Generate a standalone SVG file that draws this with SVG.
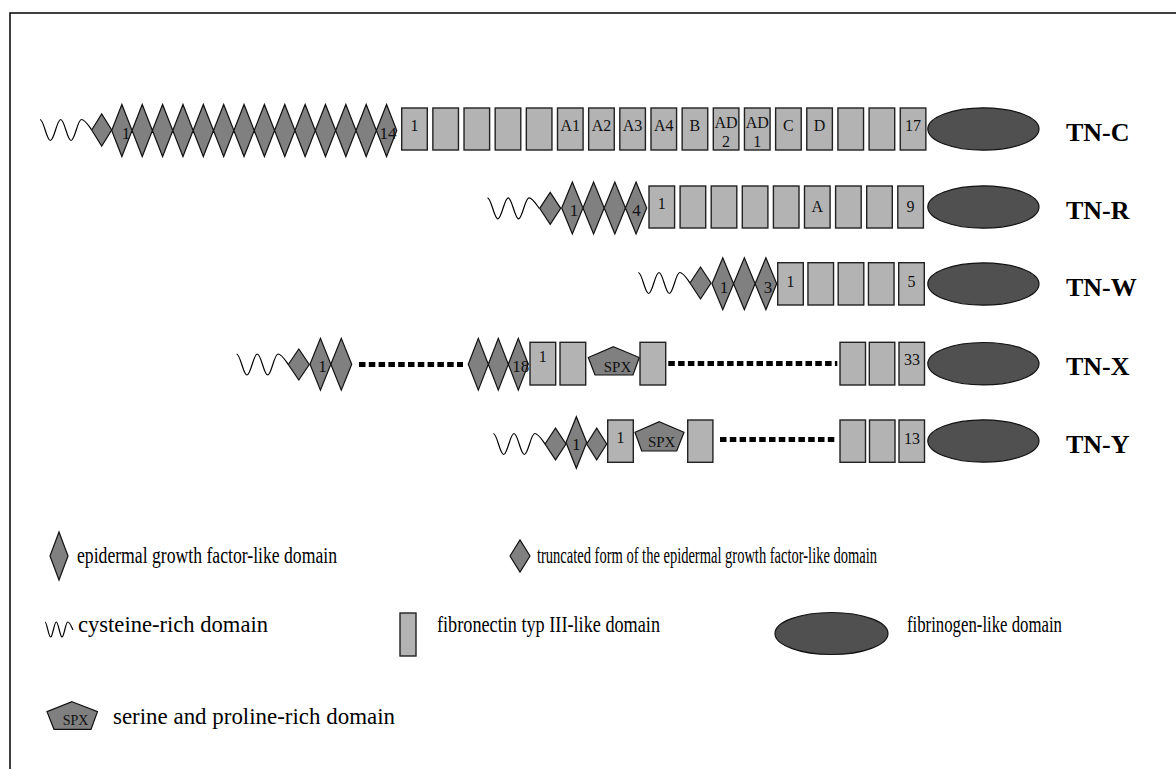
<svg xmlns="http://www.w3.org/2000/svg" xmlns:xlink="http://www.w3.org/1999/xlink" width="1176" height="769" viewBox="0 0 1176 769">
<style>
.egf{fill:#808080;stroke:#111;stroke-width:1.2}
.fn{fill:#b3b3b3;stroke:#222;stroke-width:1.4}
.fg{fill:#505050;stroke:#111;stroke-width:1.2}
.spx{fill:#808080;stroke:#111;stroke-width:1.2}
.cys{fill:none;stroke:#000;stroke-width:1.2}
.dots{fill:none;stroke:#000;stroke-width:5;stroke-dasharray:6.5 3.3}
.n{font-family:"Liberation Serif","Times New Roman",serif;font-size:16px;fill:#111;text-anchor:middle}
.d{font-family:"Liberation Serif","Times New Roman",serif;font-size:17px;fill:#111;text-anchor:middle}
.s{font-family:"Liberation Serif","Times New Roman",serif;font-size:15px;fill:#111;text-anchor:middle}
.tn{font-family:"Liberation Serif","Times New Roman",serif;font-size:26px;font-weight:bold;fill:#000}
.lg{font-family:"Liberation Serif","Times New Roman",serif;font-size:24px;fill:#000}
</style>
<defs>
<path id="wave" d="M0,0 C3.8,0 6.55,21 10.35,21 C14.15,21 16.9,0 20.7,0 C24.5,0 27.25,21 31.05,21 C34.85,21 37.6,0 41.4,0 C45,0 48.5,6 51.7,10.5"/>
</defs>
<rect x="10" y="13" width="1200" height="800" fill="none" stroke="#000" stroke-width="1.5"/>

<g id="connectors">
<path class="dots" d="M359,364.5 H463"/>
<path class="dots" d="M668.3,363.5 H837.3"/>
<path class="dots" d="M720,439.5 H836.7"/>
</g>

<g id="tn-c">
<use xlink:href="#wave" class="cys" x="40" y="119.5"/>
<path class="egf" d="M91.7,130 l10,-16 l10,16 l-10,16 z"/>
<path class="egf" d="M111.7,130.5 l10.18,-26 l10.18,26 l-10.18,26 z m20.36,0 l10.18,-26 l10.18,26 l-10.18,26 z m20.36,0 l10.18,-26 l10.18,26 l-10.18,26 z m20.36,0 l10.18,-26 l10.18,26 l-10.18,26 z m20.36,0 l10.18,-26 l10.18,26 l-10.18,26 z m20.36,0 l10.18,-26 l10.18,26 l-10.18,26 z m20.36,0 l10.18,-26 l10.18,26 l-10.18,26 z m20.36,0 l10.18,-26 l10.18,26 l-10.18,26 z m20.36,0 l10.18,-26 l10.18,26 l-10.18,26 z m20.36,0 l10.18,-26 l10.18,26 l-10.18,26 z m20.36,0 l10.18,-26 l10.18,26 l-10.18,26 z m20.36,0 l10.18,-26 l10.18,26 l-10.18,26 z m20.36,0 l10.18,-26 l10.18,26 l-10.18,26 z m20.36,0 l10.18,-26 l10.18,26 l-10.18,26 z"/>
<text class="d" x="126" y="139">1</text>
<text class="d" x="388" y="139">14</text>
<rect class="fn" x="401.7" y="108" width="25.6" height="42"/>
<rect class="fn" x="432.86" y="108" width="25.6" height="42"/>
<rect class="fn" x="464.02" y="108" width="25.6" height="42"/>
<rect class="fn" x="495.18" y="108" width="25.6" height="42"/>
<rect class="fn" x="526.34" y="108" width="25.6" height="42"/>
<rect class="fn" x="557.5" y="108" width="25.6" height="42"/>
<rect class="fn" x="588.66" y="108" width="25.6" height="42"/>
<rect class="fn" x="619.82" y="108" width="25.6" height="42"/>
<rect class="fn" x="650.98" y="108" width="25.6" height="42"/>
<rect class="fn" x="682.14" y="108" width="25.6" height="42"/>
<rect class="fn" x="713.3" y="108" width="25.6" height="42"/>
<rect class="fn" x="744.46" y="108" width="25.6" height="42"/>
<rect class="fn" x="775.62" y="108" width="25.6" height="42"/>
<rect class="fn" x="806.78" y="108" width="25.6" height="42"/>
<rect class="fn" x="837.94" y="108" width="25.6" height="42"/>
<rect class="fn" x="869.1" y="108" width="25.6" height="42"/>
<rect class="fn" x="900.26" y="108" width="25.6" height="42"/>
<text class="n" x="414.5" y="131">1</text>
<text class="n" x="570.3" y="131">A1</text>
<text class="n" x="601.5" y="131">A2</text>
<text class="n" x="632.6" y="131">A3</text>
<text class="n" x="663.8" y="131">A4</text>
<text class="n" x="694.9" y="131">B</text>
<text class="n" x="726.1" y="127.5">AD</text>
<text class="n" x="726.1" y="146.5">2</text>
<text class="n" x="757.3" y="127.5">AD</text>
<text class="n" x="757.3" y="146.5">1</text>
<text class="n" x="788.4" y="131">C</text>
<text class="n" x="819.6" y="131">D</text>
<text class="n" x="913.1" y="131">17</text>
<ellipse class="fg" cx="983.4" cy="129" rx="55.6" ry="21.2"/>
<text class="tn" x="1066" y="140.5">TN-C</text>
</g>

<g id="tn-r">
<use xlink:href="#wave" class="cys" x="487.5" y="197.8"/>
<path class="egf" d="M539.7,208.3 l10.5,-16 l10.5,16 l-10.5,16 z"/>
<path class="egf" d="M561.7,208 l10.625,-26 l10.625,26 l-10.625,26 z m21.25,0 l10.625,-26 l10.625,26 l-10.625,26 z m21.25,0 l10.625,-26 l10.625,26 l-10.625,26 z m21.25,0 l10.625,-26 l10.625,26 l-10.625,26 z"/>
<text class="d" x="574" y="215.5">1</text>
<text class="d" x="636.5" y="215.5">4</text>
<rect class="fn" x="649" y="186" width="25.6" height="42"/>
<rect class="fn" x="680.1" y="186" width="25.6" height="42"/>
<rect class="fn" x="711.2" y="186" width="25.6" height="42"/>
<rect class="fn" x="742.3" y="186" width="25.6" height="42"/>
<rect class="fn" x="773.4" y="186" width="25.6" height="42"/>
<rect class="fn" x="804.5" y="186" width="25.6" height="42"/>
<rect class="fn" x="835.6" y="186" width="25.6" height="42"/>
<rect class="fn" x="866.7" y="186" width="25.6" height="42"/>
<rect class="fn" x="897.8" y="186" width="25.6" height="42"/>
<text class="n" x="661.8" y="208.5">1</text>
<text class="n" x="817.3" y="212">A</text>
<text class="n" x="910.6" y="212">9</text>
<ellipse class="fg" cx="983.4" cy="207" rx="55.6" ry="21.2"/>
<text class="tn" x="1066" y="218.5">TN-R</text>
</g>

<g id="tn-w">
<use xlink:href="#wave" class="cys" x="638.3" y="272.5"/>
<path class="egf" d="M690,283 l10.5,-16 l10.5,16 l-10.5,16 z"/>
<path class="egf" d="M712,283.7 l10.78,-26 l10.78,26 l-10.78,26 z m21.57,0 l10.78,-26 l10.78,26 l-10.78,26 z m21.57,0 l10.78,-26 l10.78,26 l-10.78,26 z"/>
<text class="d" x="724" y="293">1</text>
<text class="d" x="768" y="293">3</text>
<rect class="fn" x="777.7" y="262.7" width="25.6" height="42.3"/>
<rect class="fn" x="807.95" y="262.7" width="25.6" height="42.3"/>
<rect class="fn" x="838.2" y="262.7" width="25.6" height="42.3"/>
<rect class="fn" x="868.45" y="262.7" width="25.6" height="42.3"/>
<rect class="fn" x="898.7" y="262.7" width="25.6" height="42.3"/>
<text class="n" x="790.5" y="286.5">1</text>
<text class="n" x="911.5" y="286.7">5</text>
<ellipse class="fg" cx="983.4" cy="284" rx="55.6" ry="21.2"/>
<text class="tn" x="1066" y="295.5">TN-W</text>
</g>

<g id="tn-x">
<use xlink:href="#wave" class="cys" x="236.6" y="354"/>
<path class="egf" d="M288.3,364.5 l10.5,-15.5 l10.5,15.5 l-10.5,15.5 z"/>
<path class="egf" d="M310,364.2 l10.43,-25.9 l10.43,25.9 l-10.43,25.9 z m20.85,0 l10.43,-25.9 l10.43,25.9 l-10.43,25.9 z"/>
<path class="egf" d="M468.3,364.2 l10,-25.9 l10,25.9 l-10,25.9 z m20,0 l10,-25.9 l10,25.9 l-10,25.9 z m20,0 l10,-25.9 l10,25.9 l-10,25.9 z"/>
<text class="d" x="322.5" y="372">1</text>
<text class="d" x="520.8" y="372">18</text>
<rect class="fn" x="530" y="342.3" width="25.7" height="42.7"/>
<rect class="fn" x="560" y="342.3" width="25.7" height="42.7"/>
<polygon class="spx" points="613.5,346.7 639.3,357.5 633,375 595,375 588.3,357.5"/>
<text class="s" x="617.5" y="371.7">SPX</text>
<rect class="fn" x="640" y="342.3" width="25.7" height="42.7"/>
<rect class="fn" x="840" y="342.3" width="25.5" height="42.7"/>
<rect class="fn" x="869.3" y="342.3" width="25.5" height="42.7"/>
<rect class="fn" x="899" y="342.3" width="25.5" height="42.7"/>
<text class="n" x="542.8" y="362.3">1</text>
<text class="n" x="912" y="365">33</text>
<ellipse class="fg" cx="983.4" cy="363.7" rx="55.6" ry="21.2"/>
<text class="tn" x="1066" y="375">TN-X</text>
</g>

<g id="tn-y">
<use xlink:href="#wave" class="cys" x="493.3" y="433.5"/>
<path class="egf" d="M545,444 l10.5,-15.8 l10.5,15.8 l-10.5,15.8 z"/>
<path class="egf" d="M566,442.5 l10.35,-25.8 l10.35,25.8 l-10.35,25.8 z"/>
<path class="egf" d="M586.7,444 l10,-15.8 l10,15.8 l-10,15.8 z"/>
<text class="d" x="576.3" y="450">1</text>
<rect class="fn" x="607.7" y="420" width="25.6" height="42.3"/>
<polygon class="spx" points="659.3,421.7 684,432.3 676.7,451 641.7,451 635,432.3"/>
<text class="s" x="661.7" y="446.7">SPX</text>
<rect class="fn" x="687.7" y="420" width="25.2" height="42.3"/>
<rect class="fn" x="840" y="420" width="25.5" height="42.3"/>
<rect class="fn" x="869.5" y="420" width="25.5" height="42.3"/>
<rect class="fn" x="899" y="420" width="25.5" height="42.3"/>
<text class="n" x="620.5" y="443.3">1</text>
<text class="n" x="912" y="444">13</text>
<ellipse class="fg" cx="983.4" cy="441" rx="55.6" ry="21.2"/>
<text class="tn" x="1066" y="452.5">TN-Y</text>
</g>

<g id="legend-egf">
<path class="egf" d="M50,556 l9,-24 l9,24 l-9,24 z"/>
<text class="lg" x="77" y="563" textLength="260" lengthAdjust="spacingAndGlyphs">epidermal growth factor-like domain</text>
</g>
<g id="legend-egf-truncated">
<path class="egf" d="M510,556 l10,-16 l10,16 l-10,16 z"/>
<text class="lg" x="537" y="563" textLength="340" lengthAdjust="spacingAndGlyphs">truncated form of the epidermal growth factor-like domain</text>
</g>
<g id="legend-cys">
<path class="cys" d="M45,622 C47,622 48.5,637 50.6,637 C52.7,637 54.2,622 56.3,622 C58.4,622 59.9,637 62,637 C64.1,637 65.6,622 67.7,622 C70,622 71.5,627 73,630"/>
<text class="lg" x="78" y="632" textLength="190" lengthAdjust="spacingAndGlyphs">cysteine-rich domain</text>
</g>
<g id="legend-fn">
<rect class="fn" x="400" y="613" width="16" height="43"/>
<text class="lg" x="437" y="632" textLength="223" lengthAdjust="spacingAndGlyphs">fibronectin typ III-like domain</text>
</g>
<g id="legend-fg">
<ellipse class="fg" cx="831.5" cy="633.5" rx="56.5" ry="21"/>
<text class="lg" x="907" y="632" textLength="155" lengthAdjust="spacingAndGlyphs">fibrinogen-like domain</text>
</g>
<g id="legend-spx">
<polygon class="spx" points="72,701.7 97.5,711.7 91,729.3 54,729.3 47,711.7"/>
<text class="s" x="75.5" y="725" style="font-size:14px">SPX</text>
<text class="lg" x="113" y="724.3" textLength="282" lengthAdjust="spacingAndGlyphs">serine and proline-rich domain</text>
</g>
</svg>
